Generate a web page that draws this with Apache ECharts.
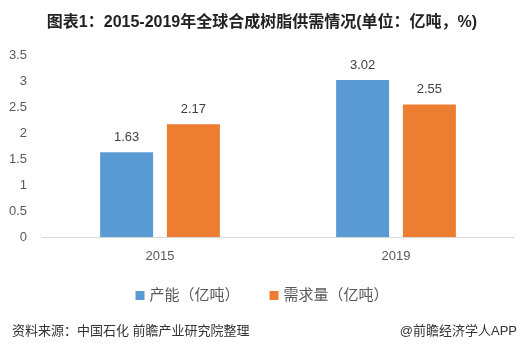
<!DOCTYPE html>
<html><head><meta charset="utf-8">
<script src="https://cdn.jsdelivr.net/npm/echarts@6/dist/echarts.min.js"></script>
<style>html,body{margin:0;padding:0;background:#fff}#c{width:524px;height:349px}</style>
</head><body><div id="c"></div>
<script>
var categories = ['2015', '2019'];
var capacity = [1.63, 3.02];
var demand = [2.17, 2.55];
var seriesNames = ['产能（亿吨）', '需求量（亿吨）'];
var yTicks = [0, 0.5, 1, 1.5, 2, 2.5, 3, 3.5];

var chart = echarts.init(document.getElementById('c'), null, {renderer: 'canvas'});
var font = '"Liberation Sans", "Noto Sans CJK SC", sans-serif';
chart.setOption({
  backgroundColor: '#fff',
  animation: false,
  textStyle: {fontFamily: font},
  title: [{
    text: '图表1：2015-2019年全球合成树脂供需情况(单位：亿吨，%)',
    left: 'center', top: 10,
    textStyle: {fontSize: 16, fontWeight: 'bold', color: '#222', fontFamily: font}
  }, {
    text: '资料来源：中国石化 前瞻产业研究院整理',
    left: 7, top: 320,
    textStyle: {fontSize: 13, fontWeight: 'normal', color: '#333', fontFamily: font}
  }, {
    text: '@前瞻经济学人APP',
    right: 2, top: 320,
    textStyle: {fontSize: 13, fontWeight: 'normal', color: '#333', fontFamily: font}
  }],
  legend: {
    data: seriesNames,
    top: 283, left: 'center',
    itemWidth: 9, itemHeight: 9, itemGap: 30,
    icon: 'rect',
    textStyle: {fontSize: 15, color: '#595959', fontFamily: font}
  },
  grid: {left: 42, right: 10, top: 55, bottom: 112},
  xAxis: {
    type: 'category', data: categories,
    axisLine: {lineStyle: {color: '#d9d9d9'}},
    axisTick: {show: false},
    axisLabel: {fontSize: 13, color: '#595959', margin: 13}
  },
  yAxis: {
    type: 'value', min: 0, max: yTicks[yTicks.length - 1], interval: 0.5,
    splitLine: {show: false},
    axisLine: {show: false}, axisTick: {show: false},
    axisLabel: {fontSize: 13, color: '#595959', margin: 15}
  },
  series: [{
    name: seriesNames[0], type: 'bar', data: capacity, barWidth: 53, barGap: '26%',
    itemStyle: {color: '#5b9bd5'},
    label: {show: true, position: 'top', fontSize: 13, color: '#404040', distance: 8}
  }, {
    name: seriesNames[1], type: 'bar', data: demand, barWidth: 53,
    itemStyle: {color: '#ed7d31'},
    label: {show: true, position: 'top', fontSize: 13, color: '#404040', distance: 8}
  }]
});
</script></body></html>
